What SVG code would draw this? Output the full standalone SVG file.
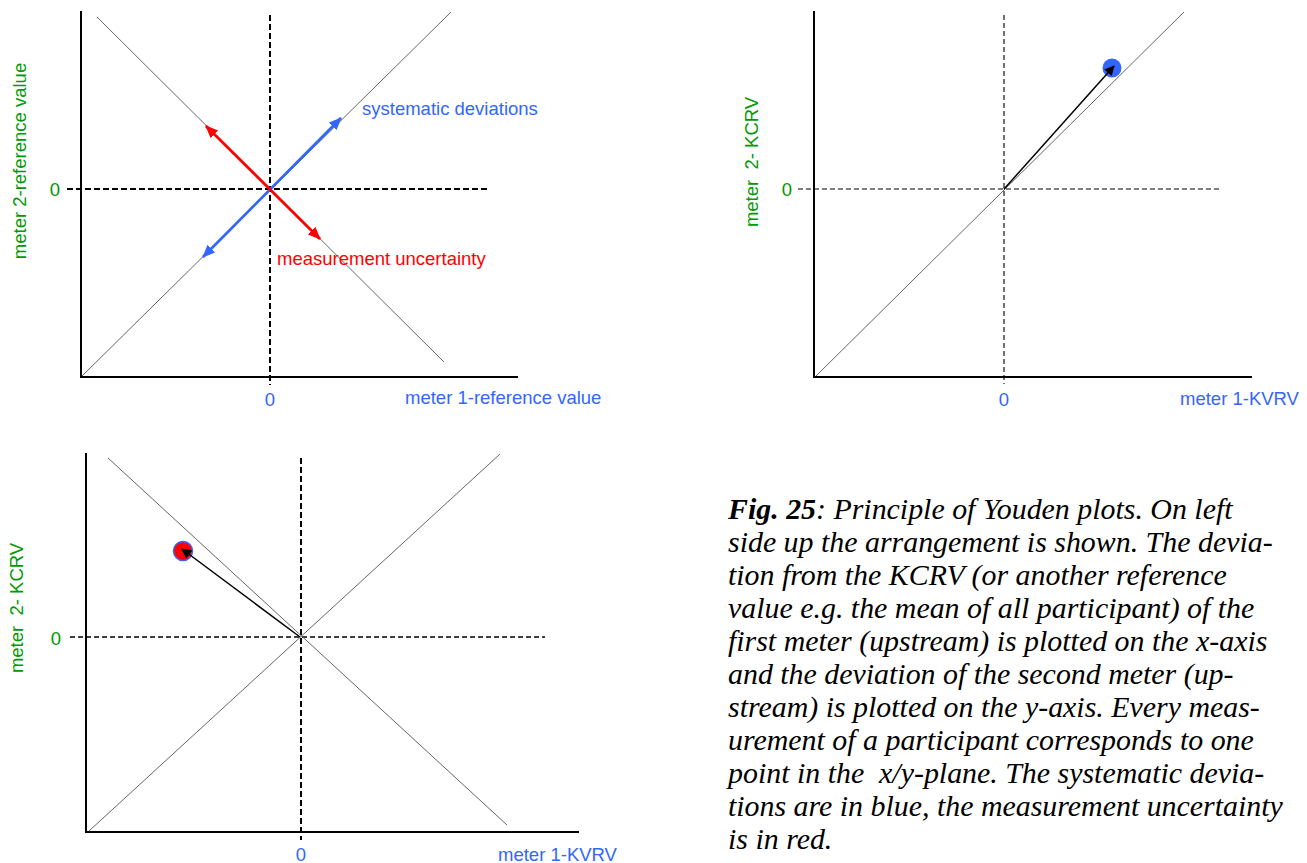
<svg xmlns="http://www.w3.org/2000/svg" width="1307" height="863" viewBox="0 0 1307 863">
<style>
.axis{stroke:#000;stroke-width:2;fill:none}
.diag{stroke:#555;stroke-width:0.9;fill:none}
.dashT{stroke:#000;stroke-width:2;stroke-dasharray:6 3;fill:none}
.dashN{stroke:#000;stroke-width:1.1;stroke-dasharray:5 3;fill:none}
.lbl{font-family:"Liberation Sans",Arial,sans-serif;font-size:18.5px}
.g{fill:#009900}
.b{fill:#3366ff}
.r{fill:#ff0000}
.cap{font-family:"Liberation Serif","Times New Roman",serif;font-size:29.9px;font-style:italic;fill:#000;white-space:pre}
</style>
<defs>
<marker id="ahBlue" viewBox="0 0 12 10" refX="11" refY="5" markerWidth="13" markerHeight="11" markerUnits="userSpaceOnUse" orient="auto-start-reverse"><path d="M0,0 L12,5 L0,10 z" fill="#3366ff"/></marker>
<marker id="ahRed" viewBox="0 0 12 10" refX="11" refY="5" markerWidth="13" markerHeight="11" markerUnits="userSpaceOnUse" orient="auto-start-reverse"><path d="M0,0 L12,5 L0,10 z" fill="#ff0000"/></marker>
<marker id="ahBlack" viewBox="0 0 10 10" refX="9" refY="5" markerWidth="11" markerHeight="10" markerUnits="userSpaceOnUse" orient="auto"><path d="M0,0 L10,5 L0,10 z" fill="#000"/></marker>
</defs>
<rect width="1307" height="863" fill="#fff"/>

<g id="panel-top-left">
  <line class="dashT" x1="67" y1="189" x2="487" y2="189"/>
  <line class="dashT" x1="270" y1="15" x2="270" y2="385"/>
  <line class="diag" x1="82" y1="376" x2="451" y2="12"/>
  <line class="diag" x1="97" y1="17" x2="444" y2="362"/>
  <line class="axis" x1="81" y1="11" x2="81" y2="377"/>
  <line class="axis" x1="80" y1="377" x2="518" y2="377"/>
  <text class="lbl g" x="55" y="196" text-anchor="middle">0</text>
  <text class="lbl b" x="270" y="406" text-anchor="middle">0</text>
  <text class="lbl b" x="405" y="404">meter 1-reference value</text>
  <text class="lbl g" transform="translate(26,161) rotate(-90)" text-anchor="middle">meter 2-reference value</text>
  <text class="lbl b" x="362" y="115">systematic deviations</text>
  <text class="lbl r" x="277" y="265">measurement uncertainty</text>
</g>

<g id="panel-top-right">
  <line class="dashN" x1="798" y1="189" x2="1222" y2="189"/>
  <line class="dashN" x1="1004" y1="15" x2="1004" y2="384"/>
  <line class="diag" x1="815" y1="377" x2="1184" y2="12"/>
  <line class="axis" x1="814" y1="11" x2="814" y2="378"/>
  <line class="axis" x1="813" y1="377" x2="1252" y2="377"/>
  <circle id="point-blue" cx="1112" cy="68" r="9.5" fill="#3366ff"/>
  <text class="lbl g" x="787" y="196" text-anchor="middle">0</text>
  <text class="lbl b" x="1004" y="406" text-anchor="middle">0</text>
  <text class="lbl b" x="1180" y="405">meter 1-KVRV</text>
  <text class="lbl g" xml:space="preserve" style="white-space:pre" transform="translate(758,162) rotate(-90)" text-anchor="middle">meter  2- KCRV</text>
</g>

<g id="panel-bottom-left">
  <line class="dashN" style="stroke-width:1.4" x1="70" y1="637" x2="545" y2="637"/>
  <line class="dashT" x1="301" y1="458" x2="301" y2="840"/>
  <line class="diag" x1="89" y1="831" x2="500" y2="454"/>
  <line class="diag" x1="108" y1="458" x2="507" y2="825"/>
  <line class="axis" x1="86" y1="453" x2="86" y2="832"/>
  <line class="axis" x1="85" y1="832" x2="579" y2="832"/>
  <circle id="point-red" cx="183" cy="551" r="9.5" fill="#ff0000" stroke="#3366ff" stroke-width="1.5"/>
  <text class="lbl g" x="56" y="645" text-anchor="middle">0</text>
  <text class="lbl b" x="301" y="861" text-anchor="middle">0</text>
  <text class="lbl b" x="498" y="861">meter 1-KVRV</text>
  <text class="lbl g" xml:space="preserve" style="white-space:pre" transform="translate(23,608) rotate(-90)" text-anchor="middle">meter  2- KCRV</text>
</g>

<g id="connectors">
  <line x1="203" y1="257" x2="341" y2="118" stroke="#3366ff" stroke-width="2.8" marker-start="url(#ahBlue)" marker-end="url(#ahBlue)"/>
  <line x1="206" y1="126" x2="320" y2="239" stroke="#ff0000" stroke-width="2.8" marker-start="url(#ahRed)" marker-end="url(#ahRed)"/>
  <line x1="1004" y1="189" x2="1114" y2="66" stroke="#000" stroke-width="1.5" marker-end="url(#ahBlack)"/>
  <line x1="300" y1="637" x2="182" y2="549" stroke="#000" stroke-width="1.5" marker-end="url(#ahBlack)"/>
</g>

<g id="caption">
  <text class="cap" x="728" y="519"><tspan font-weight="bold">Fig. 25</tspan>: Principle of Youden plots. On left</text>
  <text class="cap" x="728" y="552">side up the arrangement is shown. The devia-</text>
  <text class="cap" x="728" y="585">tion from the KCRV (or another reference</text>
  <text class="cap" x="728" y="618">value e.g. the mean of all participant) of the</text>
  <text class="cap" x="728" y="651">first meter (upstream) is plotted on the x-axis</text>
  <text class="cap" x="728" y="684">and the deviation of the second meter (up-</text>
  <text class="cap" x="728" y="717">stream) is plotted on the y-axis. Every meas-</text>
  <text class="cap" x="728" y="750">urement of a participant corresponds to one</text>
  <text class="cap" x="728" y="783" xml:space="preserve">point in the  x/y-plane. The systematic devia-</text>
  <text class="cap" x="728" y="816">tions are in blue, the measurement uncertainty</text>
  <text class="cap" x="728" y="849">is in red.</text>
</g>
</svg>
